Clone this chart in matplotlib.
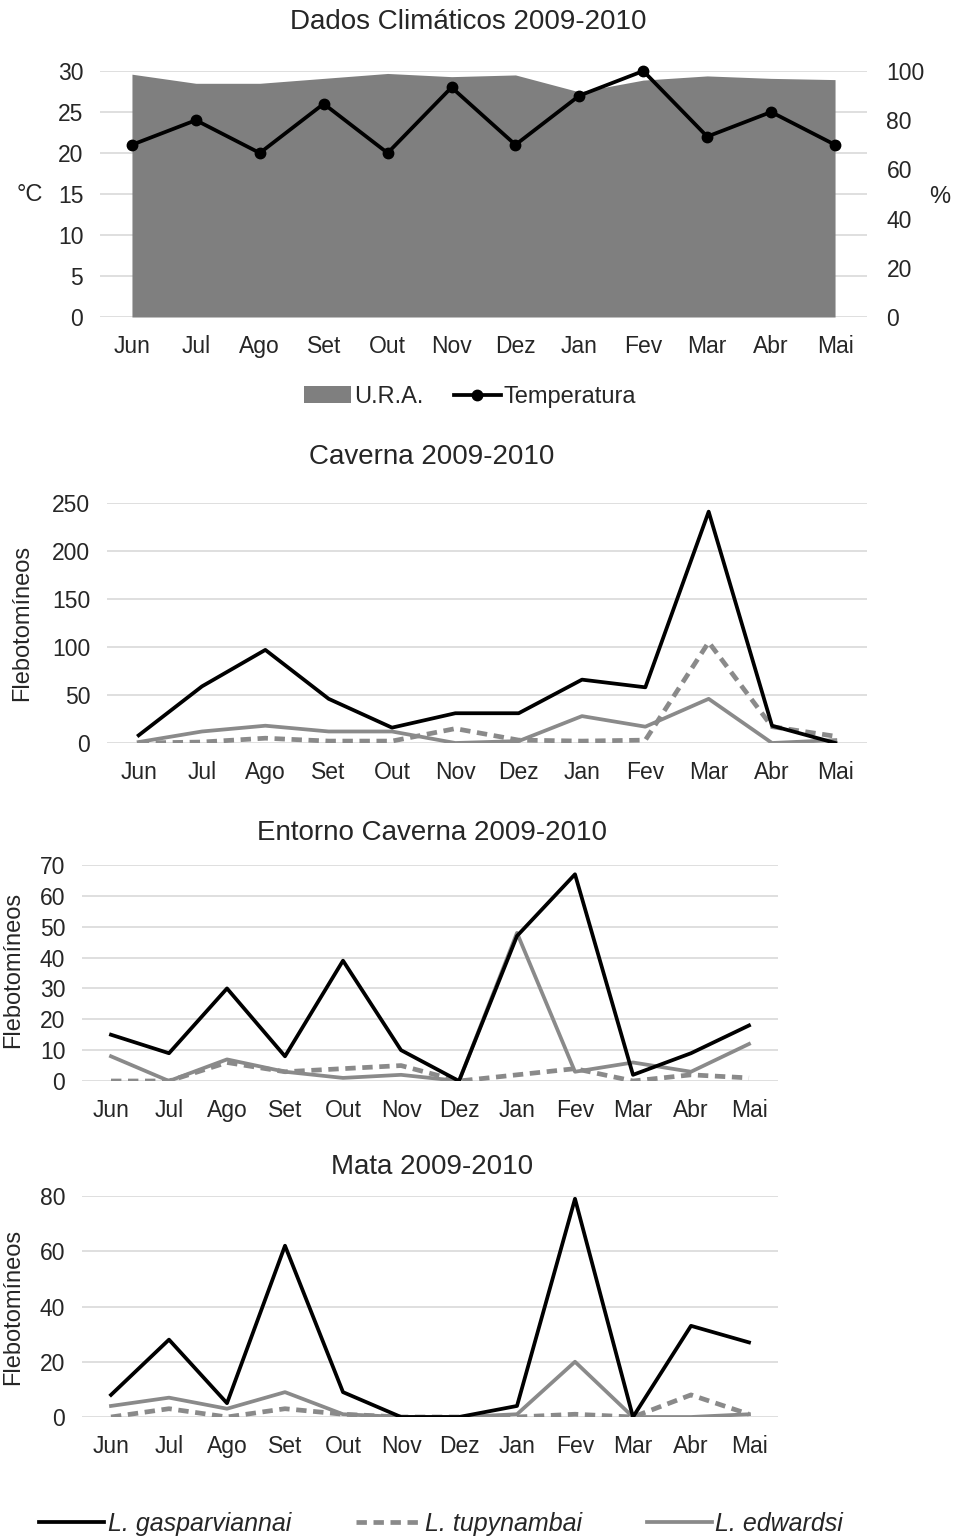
import matplotlib
matplotlib.use("Agg")
import matplotlib.pyplot as plt
from matplotlib.lines import Line2D
from matplotlib.patches import Patch

plt.rcParams['font.family'] = ['Liberation Sans', 'DejaVu Sans']

meses = ['Jun', 'Jul', 'Ago', 'Set', 'Out', 'Nov', 'Dez', 'Jan', 'Fev', 'Mar', 'Abr', 'Mai']

# clima
temperatura = [21, 24, 20, 26, 20, 28, 21, 27, 30, 22, 25, 21]
ura = [98.7, 95, 95, 97, 99, 97.7, 98.4, 91.5, 96.3, 98, 97, 96.5]

# Caverna
cav_gasp = [8, 59, 97, 46, 16, 31, 31, 66, 58, 241, 18, 0]
cav_tupy = [0, 1, 5, 2, 2, 15, 3, 2, 3, 105, 17, 7]
cav_edw = [1, 12, 18, 12, 12, 0, 2, 28, 17, 46, 0, 3]

# Entorno Caverna
ent_gasp = [15, 9, 30, 8, 39, 10, 0, 47, 67, 2, 9, 18]
ent_tupy = [0, 0, 6, 3, 4, 5, 0, 2, 4, 0, 2, 1]
ent_edw = [8, 0, 7, 3, 1, 2, 0, 48, 3, 6, 3, 12]

# Mata
mata_gasp = [8, 28, 5, 62, 9, 0, 0, 4, 79, 0, 33, 27]
mata_tupy = [0, 3, 0, 3, 1, 0, 0, 0, 1, 0, 8, 1]
mata_edw = [4, 7, 3, 9, 1, 0, 0, 1, 20, 0, 0, 1]

BLACK = '#000000'
GRAY = '#8a8a8a'
AREA = '#7f7f7f'
GRID = '#d9d9d9'
TXT = '#262626'
FS = 16.5      # ticks
FT = 20        # titulos
FL = 17        # rotulos / legendas
LW = 2.7
DASH = (0, (2.2, 1.4))

W, H = 955, 1537
fig = plt.figure(figsize=(W / 100, H / 100), dpi=100)
x = list(range(len(meses)))


def px_axes(left, right, top, bottom, **kw):
    return fig.add_axes([left / W, 1 - bottom / H, (right - left) / W, (bottom - top) / H], **kw)


def style(ax, ymax, step):
    ax.set_xlim(-0.5, 11.5)
    ax.set_ylim(0, ymax)
    ax.set_yticks(range(0, ymax + 1, step))
    ax.set_xticks(x)
    ax.set_xticklabels(meses)
    for s in ax.spines.values():
        s.set_visible(False)
    ax.grid(axis='y', color=GRID, linewidth=1.2)
    ax.set_axisbelow(True)
    ax.tick_params(length=0, labelsize=FS, colors=TXT, pad=12)
    ax.tick_params(axis='x', pad=13)


# --- Dados climaticos: grade atras, area no meio, temperatura por cima
ax0 = px_axes(100, 867, 71, 317)
style(ax0, 30, 5)
ax0r = ax0.twinx()
ax0r.fill_between(x, ura, color=AREA, linewidth=0)
ax0r.set_ylim(0, 100)
ax0r.set_yticks(range(0, 101, 20))
for s in ax0r.spines.values():
    s.set_visible(False)
ax0r.tick_params(length=0, labelsize=FS, colors=TXT, pad=14)
ax0t = px_axes(100, 867, 71, 317, sharex=ax0)
ax0t.set_ylim(0, 30)
ax0t.axis('off')
ax0t.plot(x, temperatura, color=BLACK, linewidth=LW, marker='o', markersize=7.5, clip_on=False)

fig.text(30 / W, 1 - 195 / H, '°C', fontsize=FL, color=TXT, ha='center', va='center')
fig.text(940 / W, 1 - 197 / H, '%', fontsize=FL, color=TXT, ha='center', va='center')
fig.text(468 / W, 1 - 22 / H, 'Dados Climáticos 2009-2010', fontsize=FT, color=TXT,
         ha='center', va='center')
h0 = [Patch(facecolor=AREA, edgecolor='none'),
      Line2D([], [], color=BLACK, linewidth=LW, marker='o', markersize=7.5)]
fig.legend(h0, ['U.R.A.', 'Temperatura'], loc='center', bbox_to_anchor=(470 / W, 1 - 397 / H),
           ncol=2, frameon=False, fontsize=FL, handlelength=2.0, handletextpad=0.1,
           columnspacing=1.3, labelcolor=TXT)


def especies(ax, g, t, e):
    ax.plot(x, e, color=GRAY, linewidth=LW, zorder=3)
    ax.plot(x, t, color=GRAY, linewidth=3.4, linestyle=DASH, zorder=3)
    ax.plot(x, g, color=BLACK, linewidth=LW, zorder=4)


# --- Caverna
ax1 = px_axes(107, 867, 503, 743)
style(ax1, 250, 50)
especies(ax1, cav_gasp, cav_tupy, cav_edw)
fig.text(432 / W, 1 - 457 / H, 'Caverna 2009-2010', fontsize=FT, color=TXT, ha='center', va='center')
fig.text(22 / W, 1 - 623 / H, 'Flebotomíneos', fontsize=FL, color=TXT, ha='center', va='center',
         rotation=90)

# --- Entorno Caverna
ax2 = px_axes(82, 778, 865, 1081)
style(ax2, 70, 10)
especies(ax2, ent_gasp, ent_tupy, ent_edw)
fig.text(432 / W, 1 - 833 / H, 'Entorno Caverna 2009-2010', fontsize=FT, color=TXT,
         ha='center', va='center')
fig.text(13 / W, 1 - 970 / H, 'Flebotomíneos', fontsize=FL, color=TXT, ha='center', va='center',
         rotation=90)

# --- Mata
ax3 = px_axes(82, 778, 1196, 1417)
style(ax3, 80, 20)
especies(ax3, mata_gasp, mata_tupy, mata_edw)
fig.text(432 / W, 1 - 1167 / H, 'Mata 2009-2010', fontsize=FT, color=TXT, ha='center', va='center')
fig.text(13 / W, 1 - 1307 / H, 'Flebotomíneos', fontsize=FL, color=TXT, ha='center', va='center',
         rotation=90)

h1 = [Line2D([], [], color=BLACK, linewidth=LW),
      Line2D([], [], color=GRAY, linewidth=3.4, linestyle=DASH),
      Line2D([], [], color=GRAY, linewidth=LW)]
fig.legend(h1, ['L. gasparviannai', 'L. tupynambai', 'L. edwardsi'], loc='center',
           bbox_to_anchor=(441 / W, 1 - 1524 / H), ncol=3, frameon=False,
           prop={'size': FL + 1, 'style': 'italic'}, handlelength=2.6, handletextpad=0.15,
           columnspacing=2.6, labelcolor=TXT)

fig.savefig('out.png', dpi=100)
